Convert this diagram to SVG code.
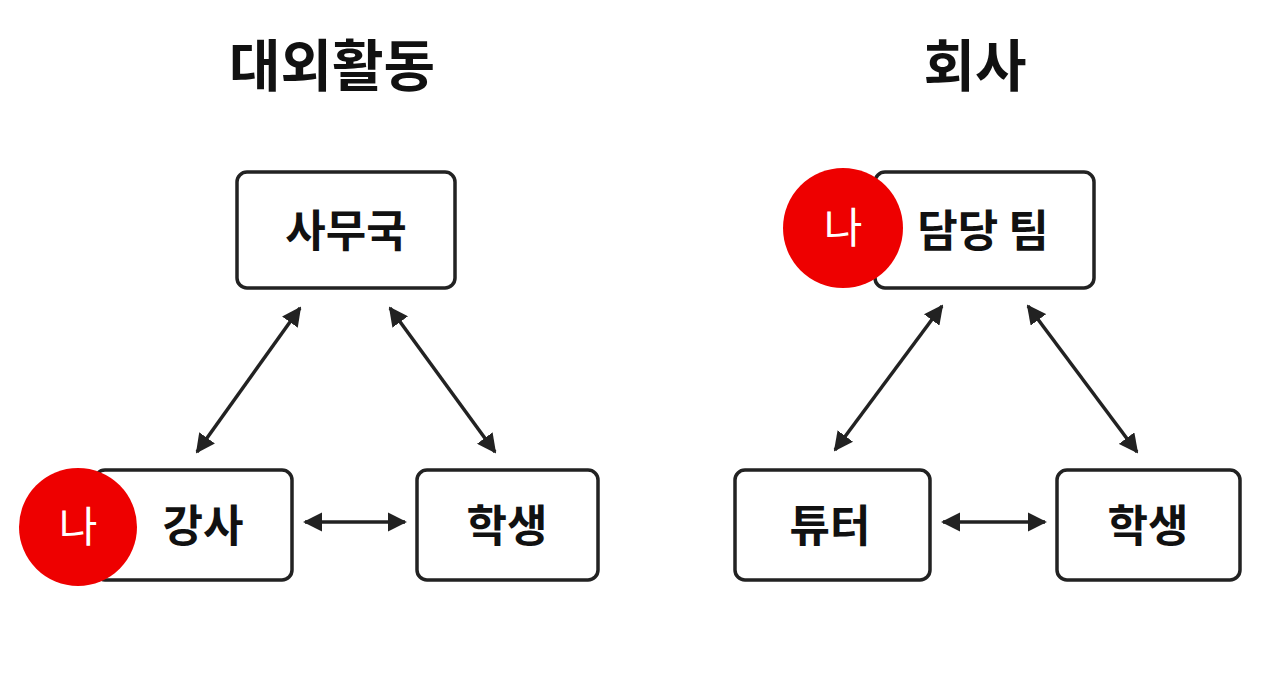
<svg xmlns="http://www.w3.org/2000/svg" width="1280" height="697" viewBox="0 0 1280 697">
<defs>
<marker id="ah" viewBox="0 0 10 10" refX="9" refY="5" markerWidth="5.5" markerHeight="5.5" orient="auto-start-reverse"><path d="M0,0L10,5L0,10z" fill="#222"/></marker>
<style>
.box{fill:#fff;stroke:#222;stroke-width:3.5}
.t{font-family:"Noto Sans CJK KR",sans-serif;font-weight:700;fill:#111;text-anchor:middle}
.n{font-size:44px}
.h{font-size:56px}
.me{fill:#ee0000}
.mt{font-family:"Noto Sans CJK KR",sans-serif;font-size:42px;fill:#fff;text-anchor:middle}
.c{stroke:#222;stroke-width:3.5;fill:none;marker-start:url(#ah);marker-end:url(#ah)}
</style>
</defs>
<rect width="1280" height="697" fill="#fff"/>
<text class="t h" x="332" y="86">대외활동</text>
<text class="t h" x="975" y="86">회사</text>
<g id="connectors">
<line class="c" x1="300" y1="308" x2="197" y2="452"/>
<line class="c" x1="390" y1="308" x2="495" y2="452"/>
<line class="c" x1="305" y1="522" x2="405" y2="522"/>
<line class="c" x1="942" y1="306" x2="835" y2="450"/>
<line class="c" x1="1028" y1="306" x2="1137" y2="452"/>
<line class="c" x1="943" y1="522" x2="1045" y2="522"/>
</g>
<g id="samuguk"><rect class="box" x="237" y="172" width="218" height="116" rx="10"/><text class="t n" x="346" y="247">사무국</text></g>
<g id="gangsa"><rect class="box" x="95" y="470" width="197" height="110" rx="10"/><text class="t n" x="203" y="542">강사</text></g>
<g id="me-left"><circle class="me" cx="78" cy="527" r="59"/><text class="mt" x="78" y="542">나</text></g>
<g id="student-left"><rect class="box" x="417" y="470" width="181" height="110" rx="10"/><text class="t n" x="507" y="542">학생</text></g>
<g id="team"><rect class="box" x="875" y="172" width="219" height="116" rx="10"/><text class="t n" x="983" y="247">담당 팀</text></g>
<g id="me-right"><circle class="me" cx="843" cy="228" r="60"/><text class="mt" x="843" y="243">나</text></g>
<g id="tutor"><rect class="box" x="735" y="470" width="195" height="110" rx="10"/><text class="t n" x="830" y="542">튜터</text></g>
<g id="student-right"><rect class="box" x="1057" y="470" width="183" height="110" rx="10"/><text class="t n" x="1148" y="542">학생</text></g>
</svg>
